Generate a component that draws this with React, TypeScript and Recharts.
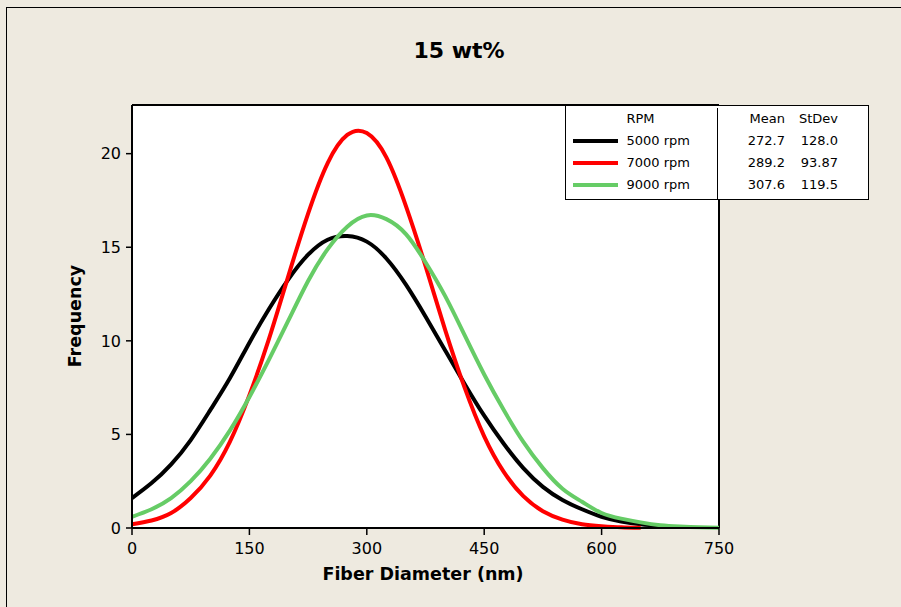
import React from 'react';
import {
  LineChart,
  Line,
  XAxis,
  YAxis,
  CartesianGrid,
  ReferenceLine,
  Legend
} from 'recharts';

// fiber diameter (nm), sampled every 25 nm
const diameters = [
  0, 25, 50, 75, 100, 125, 150, 175, 200, 225, 250, 275, 300, 325, 350, 375,
  400, 425, 450, 475, 500, 525, 550, 575, 600, 625, 650, 675, 700, 725, 750
];

// frequency
const rpm5000 = [
  1.6, 2.4, 3.4, 4.7, 6.3, 8.0, 9.9, 11.7, 13.3, 14.6, 15.4, 15.6, 15.3, 14.4, 13.0, 11.3,
  9.5, 7.7, 6.0, 4.5, 3.2, 2.2, 1.5, 1.0, 0.6, 0.35, 0.2, 0.1, null, null, null
];
const rpm7000 = [
  0.2, 0.4, 0.8, 1.6, 2.8, 4.6, 7.1, 10.1, 13.5, 16.8, 19.5, 21.0, 21.1, 19.8, 17.2, 14.0,
  10.6, 7.5, 4.9, 3.0, 1.7, 0.9, 0.45, 0.2, 0.1, 0.04, 0.01, null, null, null, null
];
const rpm9000 = [
  0.6, 1.0, 1.6, 2.5, 3.7, 5.2, 7.0, 9.0, 11.1, 13.2, 14.9, 16.1, 16.7, 16.5, 15.7, 14.2,
  12.4, 10.3, 8.2, 6.3, 4.6, 3.2, 2.1, 1.4, 0.8, 0.5, 0.3, 0.15, 0.08, 0.04, 0.02
];

const xTicks = [0, 150, 300, 450, 600, 750];
const yTicks = [0, 5, 10, 15, 20];
const yMax = 22.6;

const seriesNames = ['5000 rpm', '7000 rpm', '9000 rpm'];
const seriesKeys = ['r5000', 'r7000', 'r9000'];
const seriesColors = ['#000000', '#FF0000', '#66CC66'];
const means = ['272.7', '289.2', '307.6'];
const stdevs = ['128.0', '93.87', '119.5'];

const data = diameters.map((d, i) => ({
  d,
  r5000: rpm5000[i],
  r7000: rpm7000[i],
  r9000: rpm9000[i]
}));

const FONT = '"DejaVu Sans", Verdana, sans-serif';
const BG = '#EEEAE0';

const LegendTable = () => (
  <div
    style={{
      display: 'flex',
      width: 304,
      height: 95,
      boxSizing: 'border-box',
      border: '1.5px solid #000',
      background: '#fff',
      fontFamily: FONT,
      fontSize: 13,
      color: '#000',
      lineHeight: '22px',
      paddingTop: 2
    }}
  >
    <div
      style={{
        width: 152,
        flexShrink: 0,
        boxSizing: 'border-box',
        borderRight: '1.5px solid #000',
        paddingLeft: 60.5
      }}
    >
      <div>RPM</div>
      {seriesNames.map((name, i) => (
        <div key={name} style={{ position: 'relative', whiteSpace: 'nowrap' }}>
          <span
            style={{
              position: 'absolute',
              left: -54,
              top: 9,
              width: 45,
              height: 4,
              background: seriesColors[i]
            }}
          />
          {name}
        </div>
      ))}
    </div>
    <div style={{ display: 'flex', flexShrink: 0 }}>
      <div style={{ width: 67, textAlign: 'right' }}>
        <div>Mean</div>
        {means.map((m) => (
          <div key={m}>{m}</div>
        ))}
      </div>
      <div style={{ width: 53, textAlign: 'right' }}>
        <div>StDev</div>
        {stdevs.map((s) => (
          <div key={s}>{s}</div>
        ))}
      </div>
    </div>
  </div>
);

const App: React.FC = () => {
  return (
    <div
      style={{
        position: 'fixed',
        left: 0,
        top: 0,
        width: 901,
        height: 607,
        background: BG,
        overflow: 'hidden',
        fontFamily: FONT
      }}
    >
      {/* outer frame, only top and left edges are visible */}
      <div
        style={{
          position: 'absolute',
          left: 6,
          top: 7,
          width: 960,
          height: 660,
          borderLeft: '1.5px solid #000',
          borderTop: '1.5px solid #000'
        }}
      />

      <div
        style={{
          position: 'absolute',
          left: 0,
          top: 40,
          width: 918,
          textAlign: 'center',
          fontSize: 22,
          lineHeight: '22px',
          fontWeight: 'bold'
        }}
      >
        15 wt%
      </div>

      <div style={{ position: 'absolute', left: 0, top: 0 }}>
        <LineChart
          width={901}
          height={607}
          data={data}
          margin={{ top: 105, right: 182, bottom: 49, left: 72 }}
        >
          <CartesianGrid horizontal={false} vertical={false} fill="#fff" />
          <XAxis
            dataKey="d"
            type="number"
            domain={[0, 750]}
            ticks={xTicks}
            interval={0}
            height={30}
            tickSize={7}
            tickMargin={8}
            axisLine={{ stroke: '#000', strokeWidth: 2 }}
            tickLine={{ stroke: '#000', strokeWidth: 1.5 }}
            tick={{ fill: '#000', fontSize: 16, fontFamily: FONT }}
          />
          <YAxis
            type="number"
            domain={[0, yMax]}
            ticks={yTicks}
            interval={0}
            width={60}
            tickSize={6}
            tickMargin={5}
            axisLine={{ stroke: '#000', strokeWidth: 2 }}
            tickLine={{ stroke: '#000', strokeWidth: 1.5 }}
            tick={{ fill: '#000', fontSize: 16, fontFamily: FONT }}
          />
          <ReferenceLine y={yMax} stroke="#000" strokeWidth={2} />
          <ReferenceLine x={750} stroke="#000" strokeWidth={2} />
          {seriesKeys.map((key, i) => (
            <Line
              key={key}
              dataKey={key}
              name={seriesNames[i]}
              type="natural"
              stroke={seriesColors[i]}
              strokeWidth={4}
              dot={false}
              activeDot={false}
              connectNulls={false}
              isAnimationActive={false}
            />
          ))}
          <Legend
            layout="horizontal"
            verticalAlign="middle"
            align="center"
            content={() => <LegendTable />}
            wrapperStyle={{ left: 565, top: 105, width: 304, height: 95 }}
          />
        </LineChart>
      </div>

      <div
        style={{
          position: 'absolute',
          left: 223,
          top: 566,
          width: 400,
          textAlign: 'center',
          fontSize: 17.5,
          lineHeight: '17.5px',
          fontWeight: 'bold'
        }}
      >
        Fiber Diameter (nm)
      </div>
      <div
        style={{
          position: 'absolute',
          left: -25,
          top: 306,
          width: 200,
          height: 20,
          textAlign: 'center',
          fontSize: 17.5,
          lineHeight: '20px',
          fontWeight: 'bold',
          transform: 'rotate(-90deg)'
        }}
      >
        Frequency
      </div>
    </div>
  );
};

export default App;
